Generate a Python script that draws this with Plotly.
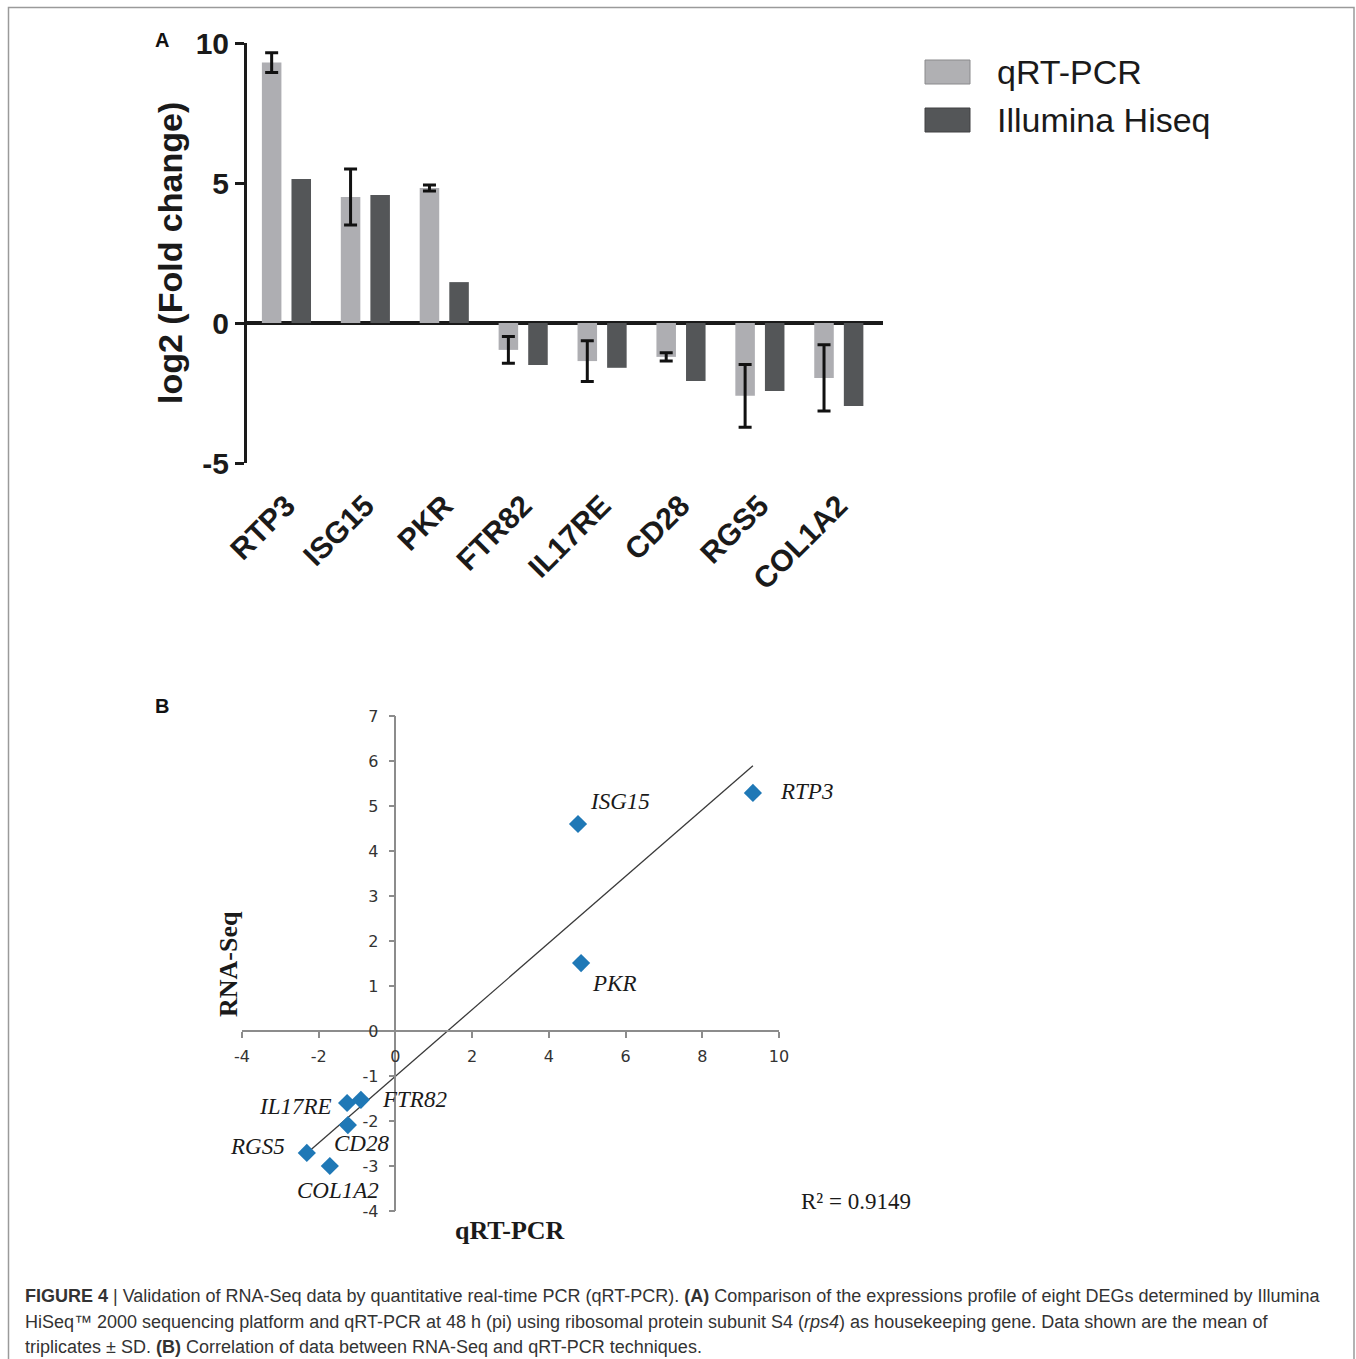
import numpy as np
import plotly.graph_objects as go

# ---------------- data ----------------
genes = ["RTP3", "ISG15", "PKR", "FTR82", "IL17RE", "CD28", "RGS5", "COL1A2"]
qrt_pcr = [9.3, 4.5, 4.82, -0.96, -1.36, -1.21, -2.6, -1.96]
qrt_pcr_sd = [0.35, 1.0, 0.11, 0.48, 0.73, 0.15, 1.12, 1.18]
illumina_hiseq = [5.14, 4.57, 1.46, -1.5, -1.6, -2.07, -2.43, -2.96]

scatter_qrt = [9.32, 4.76, 4.84, -0.9, -1.26, -1.24, -2.31, -1.71]
scatter_rnaseq = [5.29, 4.6, 1.51, -1.53, -1.6, -2.09, -2.71, -3.0]
r2_text = "R² = 0.9149"

yticks_a = [-5, 0, 5, 10]
xticks_b = [-4, -2, 0, 2, 4, 6, 8, 10]
yticks_b = [-4, -3, -2, -1, 0, 1, 2, 3, 4, 5, 6, 7]

# ---------------- layout helpers ----------------
W, H = 1356, 1359
def px(x):
    return x / W
def py(y):
    return 1 - y / H

ARIAL = "Arial, Liberation Sans, sans-serif"
SERIF = "Times New Roman, Liberation Serif, serif"
TICKB = "DejaVu Sans, Verdana, sans-serif"

fig = go.Figure()

# Panel A bars
fig.add_trace(go.Bar(
    x=genes, y=qrt_pcr, name="qRT-PCR", marker_color="#AEAEB2",
    marker_line_width=0,
    error_y=dict(type="data", array=qrt_pcr_sd, color="#111111", thickness=3, width=6.5),
    xaxis="x", yaxis="y", showlegend=False,
))
fig.add_trace(go.Bar(
    x=genes, y=illumina_hiseq, name="Illumina Hiseq", marker_color="#545658",
    marker_line_width=0, xaxis="x", yaxis="y", showlegend=False,
))

# Panel B scatter + linear trendline
slope, intercept = np.polyfit(scatter_qrt, scatter_rnaseq, 1)
xline = np.array([min(scatter_qrt), max(scatter_qrt)])
fig.add_trace(go.Scatter(
    x=xline, y=slope * xline + intercept, mode="lines",
    line=dict(color="#3a3a3a", width=1.3), xaxis="x2", yaxis="y2", showlegend=False,
))
fig.add_trace(go.Scatter(
    x=scatter_qrt, y=scatter_rnaseq, mode="markers",
    marker=dict(symbol="diamond", size=14, color="#1F78B6"),
    xaxis="x2", yaxis="y2", showlegend=False,
))

# point label offsets (style)
label_style = {
    "RTP3": (25, 1, "left"),
    "ISG15": (10, 23, "left"),
    "PKR": (9, -20, "left"),
    "FTR82": (19, 0, "left"),
    "IL17RE": (-13, -3, "right"),
    "CD28": (-16, -18, "left"),
    "RGS5": (-20, 6, "right"),
    "COL1A2": (8, -24, "center"),
}
annotations = []
for g, xv, yv in zip(genes, scatter_qrt, scatter_rnaseq):
    dx, dy, anc = label_style[g]
    annotations.append(dict(
        x=xv, y=yv, xref="x2", yref="y2", text="<i>" + g + "</i>", showarrow=False,
        xanchor=anc, yanchor="middle", xshift=dx, yshift=dy,
        font=dict(family=SERIF, size=23, color="#1a1a1a"),
    ))

# texts
annotations += [
    dict(x=px(162), y=py(40), xref="paper", yref="paper", text="<b>A</b>", showarrow=False,
         font=dict(family=ARIAL, size=20, color="#111"), xanchor="center", yanchor="middle"),
    dict(x=px(162), y=py(706), xref="paper", yref="paper", text="<b>B</b>", showarrow=False,
         font=dict(family=ARIAL, size=20, color="#111"), xanchor="center", yanchor="middle"),
    dict(x=px(170), y=py(253), xref="paper", yref="paper", text="<b>log2 (Fold change)</b>",
         showarrow=False, textangle=-90, font=dict(family=ARIAL, size=34, color="#1a1a1a"),
         xanchor="center", yanchor="middle"),
    dict(x=px(995), y=py(72), xref="paper", yref="paper", text="qRT-PCR", showarrow=False,
         font=dict(family=ARIAL, size=34, color="#1a1a1a"), xanchor="left", yanchor="middle"),
    dict(x=px(995), y=py(120), xref="paper", yref="paper", text="Illumina Hiseq", showarrow=False,
         font=dict(family=ARIAL, size=34, color="#1a1a1a"), xanchor="left", yanchor="middle"),
    dict(x=px(228), y=py(964), xref="paper", yref="paper", text="<b>RNA-Seq</b>", showarrow=False,
         textangle=-90, font=dict(family=SERIF, size=26, color="#1a1a1a"),
         xanchor="center", yanchor="middle"),
    dict(x=px(510), y=py(1230), xref="paper", yref="paper", text="<b>qRT-PCR</b>", showarrow=False,
         font=dict(family=SERIF, size=26, color="#1a1a1a"), xanchor="center", yanchor="middle"),
    dict(x=px(856), y=py(1201), xref="paper", yref="paper", text=r2_text, showarrow=False,
         font=dict(family=SERIF, size=23, color="#1a1a1a"), xanchor="center", yanchor="middle"),
]

caption_lines = [
    "<b>FIGURE 4</b> | Validation of RNA-Seq data by quantitative real-time PCR (qRT-PCR). "
    "<b>(A)</b> Comparison of the expressions profile of eight DEGs determined by Illumina",
    "HiSeq™ 2000 sequencing platform and qRT-PCR at 48 h (pi) using ribosomal protein subunit S4 "
    "(<i>rps4</i>) as housekeeping gene. Data shown are the mean of",
    "triplicates ± SD. <b>(B)</b> Correlation of data between RNA-Seq and qRT-PCR techniques.",
]
for i, line in enumerate(caption_lines):
    annotations.append(dict(
        x=px(23), y=py(1296 + 25.5 * i), xref="paper", yref="paper", text=line, showarrow=False,
        xanchor="left", yanchor="middle", font=dict(family=ARIAL, size=18, color="#333333"),
    ))

shapes = [
    # outer frame
    dict(type="rect", xref="paper", yref="paper", x0=px(8.5), x1=px(1354), y0=py(1375), y1=py(7.5),
         line=dict(color="#9a9a9a", width=1.5), fillcolor="rgba(0,0,0,0)", layer="below"),
    # legend boxes
    dict(type="rect", xref="paper", yref="paper", x0=px(925), x1=px(970), y0=py(84), y1=py(60),
         line=dict(color="#8a8a8c", width=1), fillcolor="#B0B0B3"),
    dict(type="rect", xref="paper", yref="paper", x0=px(925), x1=px(970), y0=py(132), y1=py(108),
         line=dict(color="#404042", width=1), fillcolor="#545658"),
]

fig.update_layout(
    width=W, height=H, margin=dict(l=0, r=0, t=0, b=0, autoexpand=False),
    paper_bgcolor="white", plot_bgcolor="rgba(0,0,0,0)",
    barmode="group", bargap=0.25, bargroupgap=0.34,
    annotations=annotations, shapes=shapes,
    xaxis=dict(
        domain=[px(247), px(883)], anchor="y", range=[-0.5, 7.56], automargin=False,
        showline=False, showgrid=False, zeroline=False, ticks="", ticklabelstandoff=18,
        tickangle=-45, tickfont=dict(family=ARIAL, size=30, color="#1a1a1a", weight="bold"),
    ),
    yaxis=dict(
        domain=[py(463), py(43)], anchor="x", range=[-5, 10], automargin=False,
        tickvals=yticks_a, ticktext=[str(v) for v in yticks_a],
        showline=True, linewidth=3, linecolor="#1a1a1a",
        ticks="outside", ticklen=9, tickwidth=3, tickcolor="#1a1a1a",
        showgrid=False, zeroline=True, zerolinewidth=3.5, zerolinecolor="#1a1a1a",
        tickfont=dict(family=ARIAL, size=30, color="#1a1a1a", weight="bold"),
    ),
    xaxis2=dict(
        domain=[px(242), px(779)], anchor="free", position=py(1031), range=[-4, 10],
        automargin=False, ticklabelstandoff=5,
        tickvals=xticks_b, ticktext=[str(v) for v in xticks_b],
        showline=True, linewidth=1.5, linecolor="#8c8c8c",
        ticks="outside", ticklen=6, tickwidth=1.5, tickcolor="#8c8c8c",
        showgrid=False, zeroline=False,
        tickfont=dict(family=TICKB, size=16, color="#333333"),
    ),
    yaxis2=dict(
        domain=[py(1211), py(716)], anchor="free", position=px(395.4), range=[-4, 7],
        automargin=False, ticklabelstandoff=7,
        tickvals=yticks_b, ticktext=[str(v) for v in yticks_b],
        showline=True, linewidth=1.5, linecolor="#8c8c8c",
        ticks="outside", ticklen=6, tickwidth=1.5, tickcolor="#8c8c8c",
        showgrid=False, zeroline=False,
        tickfont=dict(family=TICKB, size=16, color="#333333"),
    ),
)

fig.write_html(
    "out.html",
    config={"displayModeBar": False},
    post_script="document.body.style.margin='0px';document.body.style.overflow='hidden';",
)
